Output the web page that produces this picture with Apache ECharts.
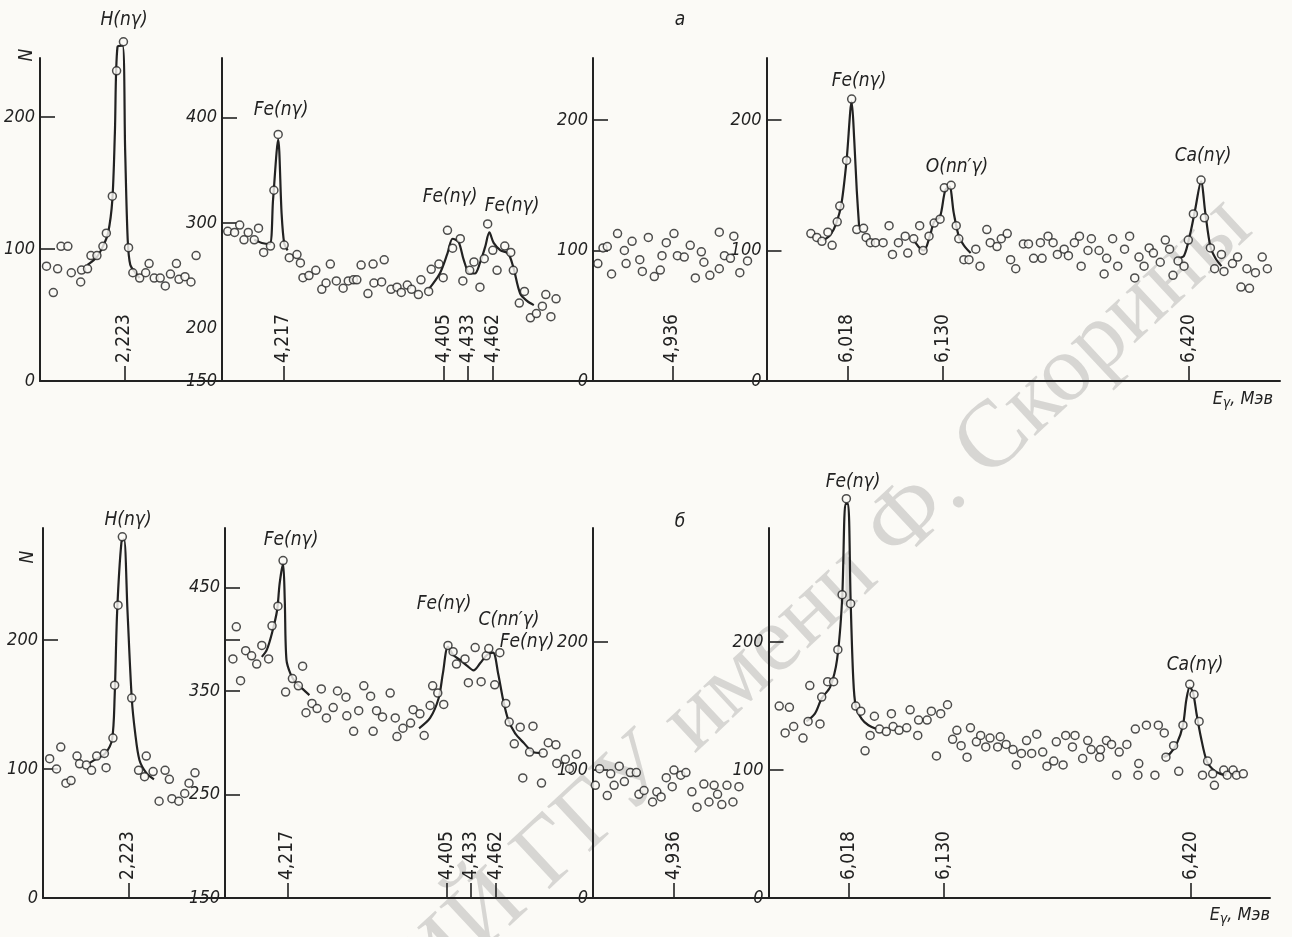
<!DOCTYPE html>
<html>
<head>
<meta charset="utf-8">
<script src="https://cdn.jsdelivr.net/npm/echarts@6/dist/echarts.min.js"></script>
<style>
  html, body { margin: 0; padding: 0; background: #fbfaf6; }
  #spectra { width: 1292px; height: 937px; }
</style>
</head>
<body>
<div id="spectra"></div>
<script>
// --- measured spectra, E in MeV, N counts ---
var a1Points = [[2.132,87],[2.140,67],[2.145,85],[2.149,102],[2.157,102],[2.161,82],[2.172,75],[2.173,84],[2.180,85],[2.184,95],[2.191,95],[2.198,102],[2.202,112],[2.209,140],[2.214,235],[2.222,257],[2.228,101],[2.233,82],[2.241,78],[2.248,82],[2.252,89],[2.258,78],[2.265,78],[2.271,72],[2.277,81],[2.284,89],[2.287,77],[2.294,79],[2.301,75],[2.307,95]];
var a1Fit = [[2.180,88],[2.191,94],[2.198,102],[2.204,112],[2.209,137],[2.212,188],[2.215,253],[2.221,254],[2.224,175],[2.227,107],[2.230,88],[2.236,82],[2.241,78]];

var a2Points = [[4.152,292],[4.160,291],[4.166,298],[4.171,284],[4.176,291],[4.183,284],[4.188,295],[4.194,272],[4.202,278],[4.206,331],[4.211,384],[4.218,279],[4.224,267],[4.233,270],[4.237,262],[4.240,248],[4.247,250],[4.255,255],[4.262,237],[4.267,243],[4.272,261],[4.279,245],[4.287,238],[4.293,245],[4.299,246],[4.303,246],[4.308,260],[4.316,233],[4.322,261],[4.323,243],[4.332,244],[4.335,265],[4.343,237],[4.350,239],[4.355,234],[4.362,241],[4.367,237],[4.375,232],[4.378,246],[4.387,235],[4.390,256],[4.399,261],[4.404,248],[4.409,293],[4.415,276],[4.424,285],[4.427,245],[4.435,255],[4.440,263],[4.447,239],[4.452,266],[4.456,299],[4.462,274],[4.467,255],[4.476,278],[4.483,272],[4.486,255],[4.493,224],[4.499,235],[4.506,210],[4.513,214],[4.520,221],[4.524,232],[4.530,211],[4.536,228]];
var a2FitFe = [[4.183,284],[4.192,281],[4.201,280],[4.205,322],[4.211,379],[4.215,309],[4.218,281],[4.222,274]];
var a2FitPair = [[4.387,237],[4.400,252],[4.409,271],[4.415,285],[4.422,282],[4.428,265],[4.435,252],[4.441,252],[4.447,262],[4.453,277],[4.458,291],[4.463,281],[4.471,274],[4.480,271],[4.486,258],[4.494,233],[4.502,226],[4.510,222]];

var a3Points = [[4.849,90],[4.855,102],[4.860,103],[4.865,82],[4.872,113],[4.880,100],[4.882,90],[4.889,107],[4.898,93],[4.901,84],[4.908,110],[4.915,80],[4.922,85],[4.924,96],[4.929,106],[4.938,113],[4.942,96],[4.950,95],[4.957,104],[4.963,79],[4.970,99],[4.973,91],[4.980,81],[4.991,86],[4.991,114],[4.997,96],[5.004,94],[5.008,111],[5.015,83],[5.024,92]];

var a4Points = [[5.975,113],[5.982,110],[5.988,107],[5.995,114],[6.000,104],[6.006,122],[6.009,134],[6.017,169],[6.023,216],[6.029,116],[6.037,117],[6.040,110],[6.045,106],[6.051,106],[6.060,106],[6.067,119],[6.071,97],[6.078,106],[6.086,111],[6.089,98],[6.096,109],[6.103,119],[6.107,100],[6.114,111],[6.120,121],[6.127,124],[6.132,148],[6.140,150],[6.146,119],[6.149,109],[6.155,93],[6.161,93],[6.169,101],[6.174,88],[6.182,116],[6.186,106],[6.194,103],[6.199,109],[6.206,113],[6.210,93],[6.216,86],[6.225,105],[6.231,105],[6.237,94],[6.245,106],[6.247,94],[6.254,111],[6.260,106],[6.265,97],[6.273,101],[6.278,96],[6.285,106],[6.291,111],[6.293,88],[6.301,100],[6.305,109],[6.314,100],[6.320,82],[6.323,94],[6.330,109],[6.336,88],[6.344,101],[6.350,111],[6.356,79],[6.361,95],[6.367,88],[6.373,102],[6.378,98],[6.386,91],[6.392,108],[6.397,101],[6.401,81],[6.407,92],[6.414,88],[6.419,108],[6.425,128],[6.434,154],[6.438,125],[6.445,102],[6.450,86],[6.458,97],[6.461,84],[6.471,90],[6.477,95],[6.481,72],[6.488,86],[6.491,71],[6.498,83],[6.506,95],[6.512,86]];
var a4FitFe = [[5.990,108],[5.998,112],[6.005,121],[6.011,136],[6.017,169],[6.023,214],[6.026,185],[6.029,146],[6.032,116]];
var a4FitO = [[6.096,108],[6.103,102],[6.108,100],[6.115,111],[6.120,122],[6.127,126],[6.133,146],[6.138,149],[6.143,129],[6.149,111],[6.155,104],[6.163,98]];
var a4FitCa = [[6.407,94],[6.414,96],[6.421,112],[6.427,131],[6.434,153],[6.439,129],[6.445,103],[6.451,94],[6.458,88]];

var b1Points = [[2.131,108],[2.139,100],[2.144,117],[2.150,89],[2.156,91],[2.163,110],[2.166,104],[2.174,103],[2.180,99],[2.186,110],[2.195,112],[2.197,101],[2.205,124],[2.207,165],[2.211,227],[2.216,280],[2.227,155],[2.235,99],[2.242,94],[2.244,110],[2.252,98],[2.259,75],[2.266,99],[2.271,92],[2.274,77],[2.282,75],[2.289,81],[2.294,89],[2.301,97]];
var b1Fit = [[2.176,104],[2.186,108],[2.196,112],[2.204,123],[2.207,156],[2.210,223],[2.215,276],[2.218,278],[2.222,223],[2.227,155],[2.231,128],[2.236,107],[2.244,97],[2.253,92]];

var b2Points = [[4.153,381],[4.157,412],[4.162,360],[4.168,389],[4.175,384],[4.181,376],[4.187,394],[4.195,381],[4.199,413],[4.206,432],[4.212,476],[4.215,349],[4.223,362],[4.230,355],[4.235,374],[4.239,329],[4.246,338],[4.252,333],[4.257,352],[4.263,324],[4.271,334],[4.276,350],[4.286,344],[4.287,326],[4.295,311],[4.301,331],[4.307,355],[4.315,345],[4.318,311],[4.322,331],[4.329,325],[4.338,348],[4.344,324],[4.346,306],[4.353,314],[4.362,319],[4.365,332],[4.373,328],[4.378,307],[4.385,336],[4.388,355],[4.394,348],[4.401,337],[4.406,394],[4.412,388],[4.416,376],[4.426,381],[4.430,358],[4.438,392],[4.445,359],[4.451,384],[4.454,391],[4.461,356],[4.467,387],[4.474,338],[4.478,320],[4.484,299],[4.491,315],[4.494,266],[4.502,291],[4.506,316],[4.516,261],[4.518,290],[4.524,300],[4.533,298],[4.534,280],[4.544,284],[4.549,275],[4.557,289]];
var b2FitFe = [[4.187,383],[4.193,390],[4.199,406],[4.205,428],[4.208,454],[4.212,473],[4.214,438],[4.216,380],[4.221,366],[4.227,358],[4.235,352],[4.243,346]];
var b2FitTriple = [[4.372,314],[4.385,324],[4.395,343],[4.400,367],[4.406,393],[4.412,385],[4.420,380],[4.429,374],[4.436,370],[4.444,377],[4.452,385],[4.459,387],[4.465,367],[4.471,341],[4.477,322],[4.485,309],[4.495,300],[4.506,291],[4.516,290]];

var b3Points = [[4.844,88],[4.849,101],[4.858,80],[4.862,97],[4.866,88],[4.872,103],[4.878,91],[4.885,98],[4.892,98],[4.895,81],[4.901,84],[4.911,75],[4.916,83],[4.921,79],[4.927,94],[4.934,87],[4.936,100],[4.944,96],[4.950,98],[4.957,83],[4.963,71],[4.971,89],[4.977,75],[4.983,88],[4.987,81],[4.992,73],[4.998,88],[5.005,75],[5.012,87]];

var b4Points = [[5.936,150],[5.943,129],[5.948,149],[5.953,134],[5.964,125],[5.970,138],[5.972,166],[5.984,136],[5.986,157],[5.993,169],[6.000,169],[6.005,194],[6.010,237],[6.015,312],[6.020,230],[6.026,150],[6.032,146],[6.037,115],[6.043,127],[6.048,142],[6.054,132],[6.062,130],[6.068,144],[6.070,134],[6.077,131],[6.086,133],[6.090,147],[6.099,127],[6.100,139],[6.110,139],[6.115,146],[6.121,111],[6.126,144],[6.134,151],[6.140,124],[6.145,131],[6.150,119],[6.157,110],[6.161,133],[6.168,122],[6.173,127],[6.179,118],[6.184,125],[6.193,118],[6.196,126],[6.203,120],[6.211,116],[6.215,104],[6.221,113],[6.227,123],[6.233,113],[6.239,128],[6.246,114],[6.251,103],[6.259,107],[6.262,122],[6.270,104],[6.273,127],[6.281,118],[6.284,127],[6.293,109],[6.299,123],[6.303,116],[6.313,110],[6.314,116],[6.321,123],[6.327,120],[6.333,96],[6.336,114],[6.345,120],[6.355,132],[6.358,96],[6.359,105],[6.368,135],[6.378,96],[6.382,135],[6.389,129],[6.391,110],[6.400,119],[6.406,99],[6.411,135],[6.419,167],[6.424,159],[6.430,138],[6.434,96],[6.440,107],[6.446,97],[6.448,88],[6.459,100],[6.463,96],[6.470,100],[6.474,96],[6.482,97]];
var b4FitFe = [[5.968,138],[5.978,144],[5.986,156],[5.996,165],[6.004,186],[6.010,233],[6.014,308],[6.017,308],[6.020,233],[6.023,173],[6.026,150],[6.033,140],[6.041,135],[6.051,132]];
var b4FitCa = [[6.388,110],[6.396,113],[6.404,121],[6.411,135],[6.415,155],[6.419,165],[6.423,160],[6.427,144],[6.432,126],[6.439,107],[6.447,100],[6.455,97],[6.462,96]];

// line energies marked on the axes
var hTicks = [2.223];
var feTicks = [4.217, 4.405, 4.433, 4.462];
var midTicks = [4.936];
var highTicks = [6.018, 6.130, 6.420];

var INK = '#222222';
var BG = '#fbfaf6';
var FONT = '"DejaVu Sans Condensed", "DejaVu Sans", sans-serif';

// panel frames: [left, top, width, height, xmin, xmax, ymin, ymax, xticks, yticks, ylabels]
var panels = [
  [40, 58, 182, 323, 2.1244, 2.3373, 0, 244.7, hTicks, [100, 200], [0, 100, 200]],
  [222, 58, 371, 323, 4.1453, 4.5792, 150, 456.5, feTicks, [300, 400], [150, 200, 300, 400]],
  [593, 58, 173.5, 323, 4.8433, 5.0462, 0, 247.5, midTicks, [100, 200], [0, 100, 200]],
  [766.5, 58, 513.5, 323, 5.9228, 6.5269, 0, 247.5, highTicks, [100, 200], [0, 100, 200]],
  [43, 528, 182, 370, 2.1232, 2.3361, 0, 286.8, hTicks, [100, 200], [0, 100, 200]],
  [225, 528, 368, 370, 4.1437, 4.5766, 150, 507.5, feTicks, [250, 350, 400, 450], [150, 250, 350, 450]],
  [593, 528, 175.5, 370, 4.8413, 5.0466, 0, 289.1, midTicks, [100, 200], [0, 100, 200]],
  [768.5, 528, 501.5, 370, 5.9234, 6.5134, 0, 289.1, highTicks, [100, 200], [0, 100, 200]]
];

var grids = [], xAxes = [], yAxes = [];
panels.forEach(function (p, i) {
  grids.push({left: p[0], top: p[1], width: p[2], height: p[3]});
  xAxes.push({
    type: 'value', gridIndex: i, min: p[4], max: p[5],
    axisLine: {onZero: false, lineStyle: {color: INK, width: 2}},
    axisTick: {show: true, inside: true, length: 15, customValues: p[8], lineStyle: {color: INK, width: 1.6}},
    axisLabel: {
      inside: true, rotate: 90, margin: 18, customValues: p[8],
      color: INK, fontSize: 19, fontFamily: FONT,
      formatter: function (v) { return v.toFixed(3).replace('.', ','); }
    },
    splitLine: {show: false}
  });
  yAxes.push({
    type: 'value', gridIndex: i, min: p[6], max: p[7],
    axisLine: {show: true, onZero: false, lineStyle: {color: INK, width: 2}},
    axisTick: {show: true, inside: true, length: 15, customValues: p[9], lineStyle: {color: INK, width: 1.6}},
    axisLabel: {customValues: p[10], margin: 5, color: INK, fontSize: 18, fontStyle: 'italic', fontFamily: FONT},
    splitLine: {show: false}
  });
});

function dots(i, data) {
  return {
    type: 'scatter', xAxisIndex: i, yAxisIndex: i, data: data, clip: false, z: 4,
    symbol: 'circle', symbolSize: 8,
    itemStyle: {color: BG, borderColor: INK, borderWidth: 1.5}
  };
}
function fit(i, data) {
  return {
    type: 'line', xAxisIndex: i, yAxisIndex: i, data: data, clip: false, z: 3,
    showSymbol: false, symbol: 'none', smooth: 0.3,
    lineStyle: {color: INK, width: 2.2}
  };
}

var series = [
  fit(0, a1Fit), dots(0, a1Points),
  fit(1, a2FitFe), fit(1, a2FitPair), dots(1, a2Points),
  dots(2, a3Points),
  fit(3, a4FitFe), fit(3, a4FitO), fit(3, a4FitCa), dots(3, a4Points),
  fit(4, b1Fit), dots(4, b1Points),
  fit(5, b2FitFe), fit(5, b2FitTriple), dots(5, b2Points),
  dots(6, b3Points),
  fit(7, b4FitFe), fit(7, b4FitCa), dots(7, b4Points)
];

function note(txt, x, y, extra) {
  var el = {
    type: 'text', x: x, y: y, z: 10, silent: true,
    style: {
      text: txt, fill: INK, font: 'italic 19px ' + FONT,
      align: 'center', verticalAlign: 'middle', textAlign: 'center', textVerticalAlign: 'middle'
    }
  };
  if (extra) { for (var k in extra) el[k] = extra[k]; }
  return el;
}
function energyName(x, y) {
  return {
    type: 'text', x: x, y: y, z: 10, silent: true,
    style: {
      text: '{e|E}{g|γ}{e|, Мэв}', fill: INK,
      align: 'right', verticalAlign: 'middle', textAlign: 'right', textVerticalAlign: 'middle',
      rich: {
        e: {fontSize: 18, fontStyle: 'italic', fontFamily: FONT, color: INK},
        g: {fontSize: 14, fontStyle: 'italic', fontFamily: FONT, color: INK, padding: [9, 0, 0, 0]}
      }
    }
  };
}

var graphic = [
  {
    type: 'text', x: 1270, y: 248, rotation: 43 * Math.PI / 180, z: 0, silent: true,
    style: {
      text: 'РЕПОЗИТОРИЙ ГГУ имени Ф. Скорины', fill: 'rgba(120,120,120,0.27)',
      font: '95px "Liberation Serif", serif',
      align: 'right', verticalAlign: 'bottom', textAlign: 'right', textVerticalAlign: 'bottom'
    }
  },
  note('N', 27, 55, {rotation: Math.PI / 2}),
  note('N', 28, 557, {rotation: Math.PI / 2}),
  note('а', 680, 20),
  note('б', 680, 522),
  note('H(nγ)', 124, 20),
  note('Fe(nγ)', 281, 110),
  note('Fe(nγ)', 450, 197),
  note('Fe(nγ)', 512, 206),
  note('Fe(nγ)', 859, 81),
  note('O(nn′γ)', 957, 167),
  note('Ca(nγ)', 1203, 156),
  energyName(1273, 399),
  note('H(nγ)', 128, 520),
  note('Fe(nγ)', 291, 540),
  note('Fe(nγ)', 444, 604),
  note('C(nn′γ)', 509, 620),
  note('Fe(nγ)', 527, 642),
  note('Fe(nγ)', 853, 482),
  note('Ca(nγ)', 1195, 665),
  energyName(1270, 915)
];

var chart = echarts.init(document.getElementById('spectra'));
chart.setOption({
  backgroundColor: BG,
  animation: false,
  textStyle: {fontFamily: FONT, color: INK},
  grid: grids,
  xAxis: xAxes,
  yAxis: yAxes,
  series: series,
  graphic: graphic
});
</script>
</body>
</html>
